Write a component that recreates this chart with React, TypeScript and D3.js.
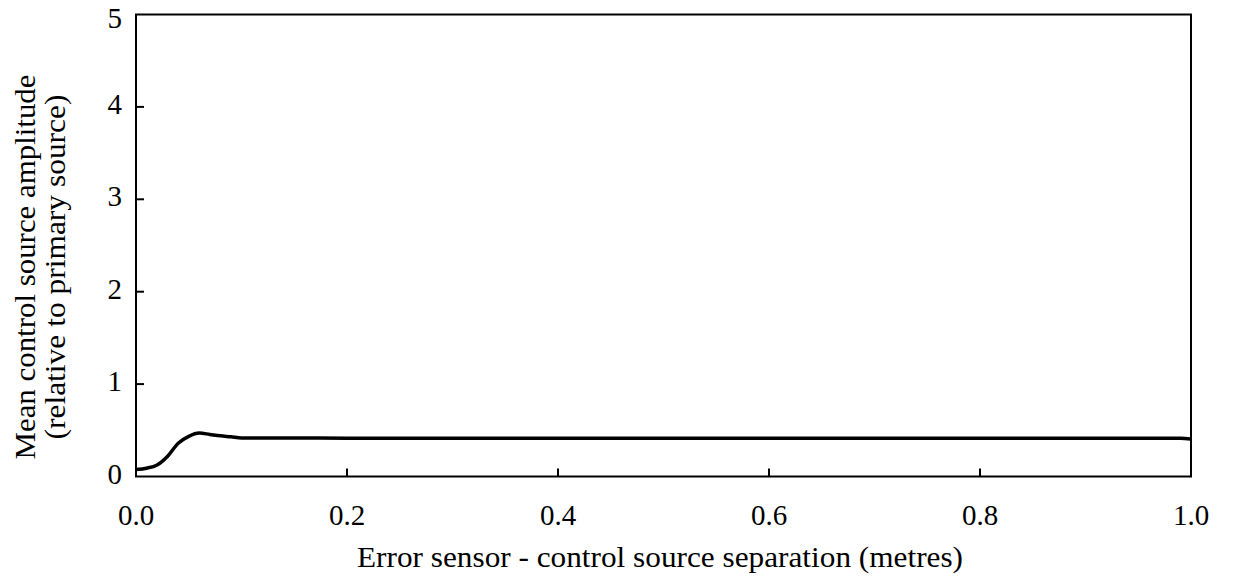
import React, { useEffect, useRef } from "react";
import * as d3 from "d3";

const separation = [0, 0.01, 0.02, 0.03, 0.04, 0.05, 0.06, 0.07, 0.08, 0.09, 0.1, 0.15, 0.2, 0.3, 0.4, 0.5, 0.6, 0.7, 0.8, 0.9, 0.95, 0.99, 1.0];
const amplitude = [0.075, 0.09, 0.125, 0.22, 0.36, 0.435, 0.47, 0.455, 0.44, 0.43, 0.418, 0.416, 0.415, 0.415, 0.415, 0.415, 0.415, 0.415, 0.415, 0.415, 0.415, 0.413, 0.405];
const xTicks = [0, 0.2, 0.4, 0.6, 0.8, 1.0];
const yTicks = [0, 1, 2, 3, 4, 5];
const xLabel = "Error sensor - control source separation (metres)";
const yLabel1 = "Mean control source amplitude";
const yLabel2 = "(relative to primary source)";

export default function App() {
  const ref = useRef<SVGSVGElement>(null);
  useEffect(() => {
    const svg = d3.select(ref.current);
    svg.selectAll("*").remove();
    const L = 136, R = 1191, T = 14.5, B = 476.5;
    const x = d3.scaleLinear().domain([0, 1]).range([L, R]);
    const y = d3.scaleLinear().domain([0, 5]).range([B, T]);
    const font = "Liberation Serif";
    const fs = 29;

    svg.append("rect").attr("x", L).attr("y", T).attr("width", R - L).attr("height", B - T)
      .attr("fill", "none").attr("stroke", "#000").attr("stroke-width", 2);

    xTicks.forEach((t) => {
      if (t > 0 && t < 1) {
        svg.append("line").attr("x1", x(t)).attr("x2", x(t)).attr("y1", B).attr("y2", B - 8)
          .attr("stroke", "#000").attr("stroke-width", 2);
      }
      svg.append("text").attr("x", x(t)).attr("y", 525).attr("text-anchor", "middle")
        .style("font-family", font).attr("font-size", fs).attr("fill", "#000").text(t.toFixed(1));
    });
    yTicks.forEach((t) => {
      if (t > 0 && t < 5) {
        svg.append("line").attr("x1", L).attr("x2", L + 8).attr("y1", y(t)).attr("y2", y(t))
          .attr("stroke", "#000").attr("stroke-width", 2);
      }
      svg.append("text").attr("x", 122).attr("y", t === 5 ? y(t) + 13 : y(t) + 7).attr("text-anchor", "end")
        .style("font-family", font).attr("font-size", fs).attr("fill", "#000").text(String(t));
    });

    const line = d3.line<number>().x((_, i) => x(separation[i])).y((d) => y(d)).curve(d3.curveMonotoneX);
    svg.append("path").attr("d", line(amplitude)).attr("fill", "none").attr("stroke", "#000").attr("stroke-width", 3.5);

    svg.append("text").attr("x", 660).attr("y", 567).attr("text-anchor", "middle")
      .attr("textLength", 606).attr("lengthAdjust", "spacingAndGlyphs")
      .style("font-family", font).attr("font-size", fs).attr("fill", "#000").text(xLabel);
    const cy = 267;
    svg.append("text").attr("transform", `translate(35,${cy}) rotate(-90)`).attr("text-anchor", "middle")
      .attr("textLength", 385).attr("lengthAdjust", "spacingAndGlyphs")
      .style("font-family", font).attr("font-size", fs).attr("fill", "#000").text(yLabel1);
    svg.append("text").attr("transform", `translate(65,${cy}) rotate(-90)`).attr("text-anchor", "middle")
      .attr("textLength", 345).attr("lengthAdjust", "spacingAndGlyphs")
      .style("font-family", font).attr("font-size", fs).attr("fill", "#000").text(yLabel2);
  }, []);
  return (
    <svg ref={ref} width={1234} height={579} style={{ position: "absolute", left: 0, top: 0, background: "#fff" }} />
  );
}
